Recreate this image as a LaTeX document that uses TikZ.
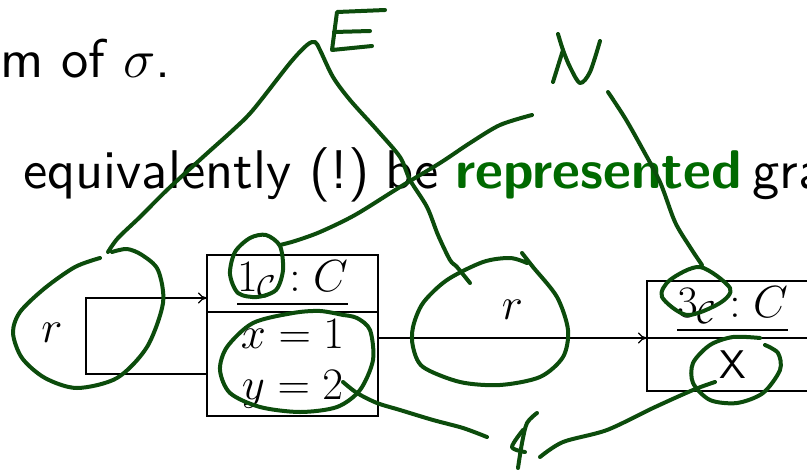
\RequirePackage{fix-cm}
\documentclass[tikz,border=0pt]{standalone}
\usepackage{amsmath,amssymb}
\usepackage{fontspec}
\setsansfont{lmsans10-regular}[Extension=.otf, BoldFont=lmsans10-bold]
\usepackage{xcolor}
\usepackage{tikz}
\usetikzlibrary{arrows.meta,positioning}
\definecolor{inkgreen}{RGB}{12,76,12}
\definecolor{alertgreen}{RGB}{0,105,0}

\begin{document}
\begin{tikzpicture}[x=1pt, y=-1pt,
  slide/.style={font=\fontsize{54.5}{64}\selectfont\sffamily, inner sep=0pt, anchor=base west},
  obj/.style={draw, line width=2pt, outer sep=0pt, inner sep=0pt,
              minimum width=171pt, align=center, font=\fontsize{45}{51}\selectfont},
  lbl/.style={font=\fontsize{45}{51}\selectfont, inner sep=0pt},
  ar/.style={-{To[length=9pt,width=11pt]}, line width=1.2pt},
  ink/.style={draw=inkgreen, line width=4pt, line cap=round, line join=round}
]
\useasboundingbox (0,0) rectangle (807,472);

% ---- Slide text --------------------------------------------------------
\node[slide] (sigma) at (0,77) {m of $\sigma$.};
\node[slide] (equiv) at (23,188) {equivalently (!)};
\node[slide] (be) at (385,188) {be};
\node[slide, text=alertgreen, font=\fontsize{54.5}{64}\selectfont\sffamily\bfseries]
  (repr) at (455,188) {represented};
\node[slide] (gra) at (752,188) {gra};

% ---- Object diagram ----------------------------------------------------
\node[lbl] (r1) at (52,333) {$r$};
\node[obj, minimum height=57pt] (o1h) at (292.5,283.5) {$\underline{1_{\mathcal{C}}:C}$};
\node[obj, minimum height=104pt, below=0pt of o1h] (o1b) {$x=1$\\$y=2$};
\node[obj, minimum height=57pt] (o2h) at (732.5,309.5) {$\underline{3_{\mathcal{C}}:C}$};
\node[obj, minimum height=53pt, below=0pt of o2h, font=\fontsize{40}{48}\selectfont\sffamily]
  (o2b) {X};
\coordinate (lp) at (86,336);

\draw[ar] ([yshift=-10pt]o1b.west) -| (lp) |- ([yshift=-14.5pt]o1h.west);
\draw[ar] (o1b.east |- o2h.south west) -- node[lbl, above=18pt] (r2) {$r$} (o2h.south west);

% ---- Hand annotations --------------------------------------------------
% E and N
\draw[ink] (385,10) -- (337,12) -- (332,50) -- (372,46);
\draw[ink] (334,32) -- (370,31);
\draw[ink] plot[smooth] coordinates {(558,34) (563,50) (570,67) (580,83) (590,72) (600,41)};
\draw[ink] (563,50) -- (553,82);
% tent from r to E to r
\draw[ink] plot[smooth] coordinates {(108,252) (118,238) (140,217) (167,190) (203,157)
  (233,130) (253,110) (290,63) (307,45) (315,42) (320,50) (333,77) (350,100)
  (377,130) (400,157) (410,180) (427,207) (438,235) (450,260) (457,267) (470,283)};
% loop round left r
\draw[ink] plot[smooth] coordinates {(100,258) (75,267) (45,288) (20,312) (13,333)
  (22,358) (45,378) (77,388) (117,378) (147,347) (163,303) (158,270) (142,255)
  (127,249) (112,252)};
% loop round right r
\draw[ink] plot[smooth] coordinates {(522,253) (533,267) (557,297) (568,330) (563,357)
  (540,377) (500,385) (460,382) (423,367) (413,347) (413,327) (423,303) (447,280)
  (483,262) (510,258) (527,263)};
% loop round 1 and line to N
\draw[ink] plot[smooth cycle] coordinates {(283,270) (280,246) (266,235) (250,238)
  (235,252) (230,274) (238,293) (257,297) (276,290)};
\draw[ink] plot[smooth] coordinates {(280,245) (295,241) (320,232) (355,215) (400,187)
  (440,163) (470,143) (500,125) (532,115)};
% N to 3
\draw[ink] plot[smooth] coordinates {(608,92) (625,118) (642,148) (660,182) (675,222)
  (690,247) (702,265)};
\draw[ink] plot[smooth cycle] coordinates {(700,267) (730,288) (720,303) (687,315)
  (662,297) (670,280)};
% loop round x=1, y=2
\draw[ink] plot[smooth] coordinates {(343,315) (320,311) (293,313) (253,323) (227,347)
  (220,370) (230,393) (260,407) (300,412) (337,407) (360,390) (373,360) (370,330)
  (357,318) (343,315)};
\draw[ink] plot[smooth] coordinates {(343,382) (357,393) (377,403) (400,410) (433,420)
  (463,428) (487,437)};
% loop round X and line to the sign
\draw[ink] plot[smooth] coordinates {(760,338) (733,337) (710,345) (693,363) (693,383)
  (710,400) (737,403) (763,393) (780,370) (778,353) (765,345)};
\draw[ink] plot[smooth] coordinates {(715,382) (693,390) (653,408) (607,430) (563,442)
  (540,457)};
\draw[ink] plot[smooth] coordinates {(537,413) (527,423) (522,443) (518,468)};
\draw[ink] plot[smooth] coordinates {(523,430) (512,447) (525,452)};
\end{tikzpicture}
\end{document}
